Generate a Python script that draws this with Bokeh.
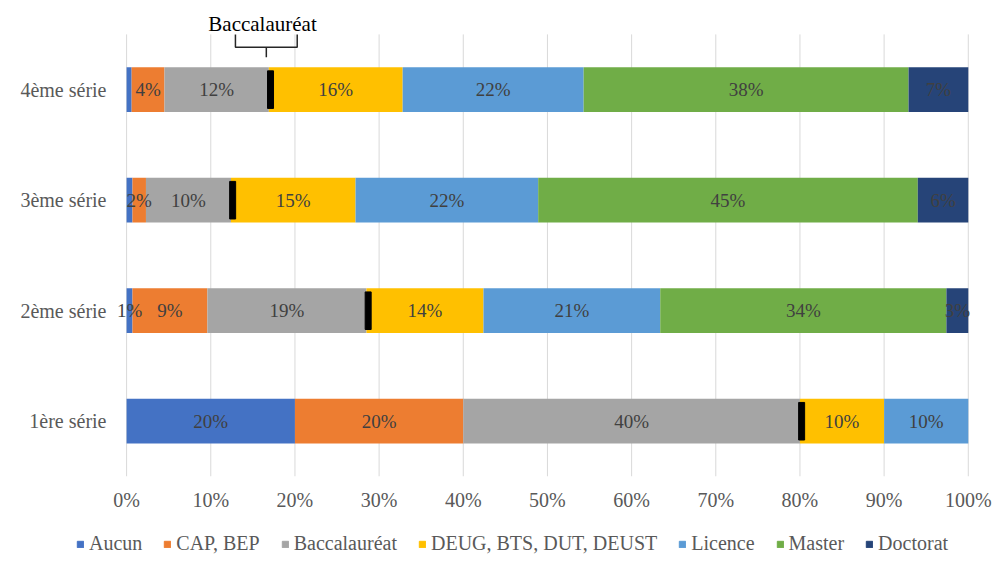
from bokeh.plotting import figure
from bokeh.models import ColumnDataSource, FixedTicker, Legend
from bokeh.layouts import column
from bokeh.core.properties import value
from bokeh.embed import file_html
from bokeh.resources import INLINE

# ---------------- data ----------------
categories = ["1ère série", "2ème série", "3ème série", "4ème série"]
levels = ["Aucun", "CAP, BEP", "Baccalauréat", "DEUG, BTS, DUT, DEUST",
          "Licence", "Master", "Doctorat"]

aucun = [20.0, 0.7, 0.7, 0.6]
cap_bep = [20.0, 8.9, 1.6, 3.9]
baccalaureat = [40.0, 18.9, 10.1, 12.4]
deug = [10.0, 13.9, 14.8, 15.9]
licence = [10.0, 21.0, 21.7, 21.5]
master = [0.0, 34.0, 45.1, 38.6]
doctorat = [0.0, 2.6, 6.0, 7.1]

aucun_labels = ["20%", "1%", "", ""]
cap_bep_labels = ["20%", "9%", "2%", "4%"]
baccalaureat_labels = ["40%", "19%", "10%", "12%"]
deug_labels = ["10%", "14%", "15%", "16%"]
licence_labels = ["10%", "21%", "22%", "22%"]
master_labels = ["", "34%", "45%", "38%"]
doctorat_labels = ["", "3%", "6%", "7%"]

x_ticks = [0, 10, 20, 30, 40, 50, 60, 70, 80, 90, 100]
x_tick_labels = ["0%", "10%", "20%", "30%", "40%", "50%", "60%", "70%", "80%", "90%", "100%"]

callout_text = "Baccalauréat"

colors = ["#4472C4", "#ED7D31", "#A5A5A5", "#FFC000", "#5B9BD5", "#70AD47", "#264478"]

series = [aucun, cap_bep, baccalaureat, deug, licence, master, doctorat]
series_labels = [aucun_labels, cap_bep_labels, baccalaureat_labels, deug_labels,
                 licence_labels, master_labels, doctorat_labels]

FONT = "Liberation Serif"
FS = "19px"
FS_AX = "20px"

# ---------------- main figure ----------------
ncat = len(categories)
ypos = [i + 0.5 for i in range(ncat)]
top = ncat

p = figure(width=1003, height=513, x_range=(-1.2, 100.5), y_range=(0, top + 0.18),
           output_backend="svg", toolbar_location=None,
           min_border_left=116, min_border_right=31, min_border_top=14,
           min_border_bottom=35)
p.frame_align = False
p.outline_line_color = None
p.background_fill_color = "white"
p.border_fill_color = "white"
p.xgrid.grid_line_color = None
p.ygrid.grid_line_color = None

# vertical gridlines spanning the category area
p.segment(x0=x_ticks, y0=[0] * len(x_ticks), x1=x_ticks, y1=[top] * len(x_ticks),
          line_color="#D9D9D9", line_width=1)

data = {"y": ypos}
for name, vals in zip(levels, series):
    data[name] = vals
src = ColumnDataSource(data)

renderers = p.hbar_stack(levels, y="y", height=0.405, fill_color=colors,
                         line_color=None, source=src)

# data labels
lx, ly, lt = [], [], []
cum = [0.0] * ncat
bacc_end = []
for k, (vals, labs) in enumerate(zip(series, series_labels)):
    for i, v in enumerate(vals):
        if labs[i]:
            lx.append(cum[i] + v / 2.0)
            ly.append(ypos[i])
            lt.append(labs[i])
        cum[i] += v
    if k == 2:
        bacc_end = list(cum)

p.text(x=lx, y=ly, text=lt, text_font=value(FONT), text_font_size=FS,
       text_color="#404040", text_align="center", text_baseline="middle")

# black markers at the end of Baccalauréat
p.rect(x=[b + 0.2 for b in bacc_end], y=ypos, width=6, height=0.34,
       width_units="screen", color="black")

# Baccalauréat callout bracket above the top bar
xc = bacc_end[-1] - 0.3
p.multi_line(xs=[[xc - 3.67, xc - 3.67, xc + 3.67, xc + 3.67], [xc, xc]],
             ys=[[top, top - 0.117, top - 0.117, top], [top - 0.117, top - 0.207]],
             line_color="#262626", line_width=1.5)
p.text(x=[xc - 0.45], y=[top + 0.09], text=[callout_text], text_font=value(FONT),
       text_font_size="21px", text_color="black", text_align="center",
       text_baseline="middle")

# axes
p.xaxis.ticker = FixedTicker(ticks=x_ticks)
p.xaxis.major_label_overrides = {t: l for t, l in zip(x_ticks, x_tick_labels)}
p.yaxis.ticker = FixedTicker(ticks=ypos)
p.yaxis.major_label_overrides = {y: c for y, c in zip(ypos, categories)}
for ax in (p.xaxis, p.yaxis):
    ax.axis_line_color = None
    ax.major_tick_line_color = None
    ax.minor_tick_line_color = None
    ax.major_label_text_font = FONT
    ax.major_label_text_font_size = FS_AX
    ax.major_label_text_color = "#595959"
p.xaxis.major_label_standoff = 6
p.yaxis.major_label_standoff = 4

# ---------------- legend strip ----------------
lg = figure(width=1003, height=56, x_range=(0, 1), y_range=(0, 1),
            output_backend="svg", toolbar_location=None,
            x_axis_type=None, y_axis_type=None,
            min_border_left=0, min_border_right=0, min_border_top=0,
            min_border_bottom=0)
lg.frame_align = False
lg.outline_line_color = None
lg.xgrid.grid_line_color = None
lg.ygrid.grid_line_color = None
# legend swatches (placed outside the visible range of this strip)
lg_renderers = [lg.rect(x=[-5], y=[-5], width=1, height=1, color=c) for c in colors]

legend = Legend(items=[(lv, [r]) for lv, r in zip(levels, lg_renderers)],
                orientation="horizontal", location=(76, 14))
legend.label_text_font = FONT
legend.label_text_font_size = FS_AX
legend.label_text_color = "#595959"
legend.glyph_width = 8
legend.glyph_height = 8
legend.label_standoff = 5
legend.spacing = 21
legend.border_line_color = None
legend.background_fill_alpha = 0
legend.padding = 0
legend.margin = 0
lg.add_layout(legend, "center")

layout = column(p, lg, spacing=0)
open("out.html", "w").write(file_html(layout, INLINE))
